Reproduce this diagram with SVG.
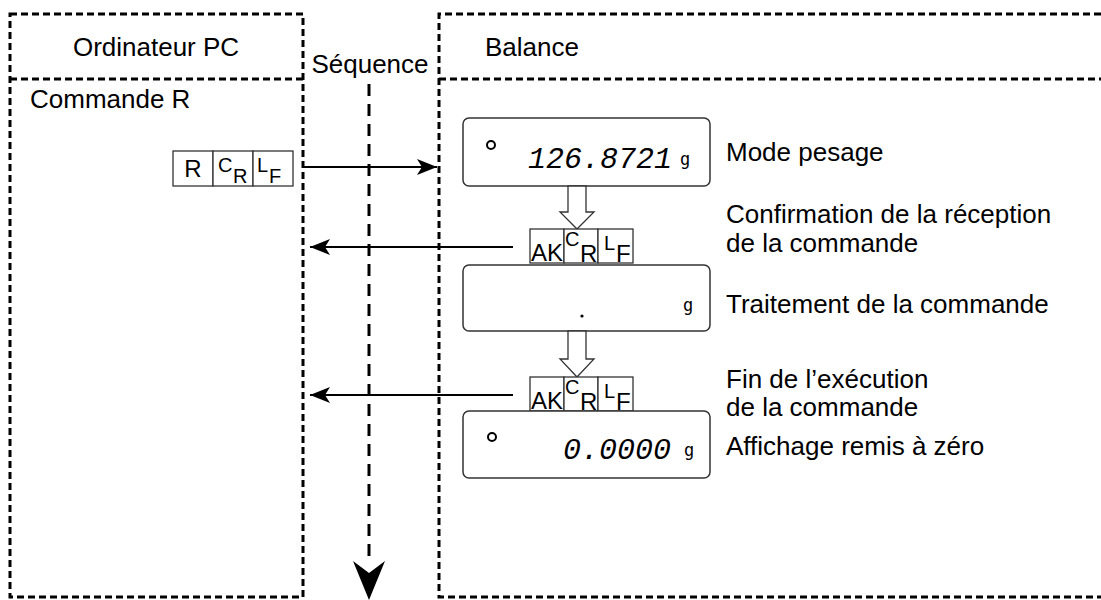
<svg xmlns="http://www.w3.org/2000/svg" width="1101" height="600" viewBox="0 0 1101 600">
<defs>
<style>
.lbl{font-family:"Liberation Sans",Arial,sans-serif;font-size:26px;fill:#000}
.dash{fill:none;stroke:#000;stroke-width:3;stroke-dasharray:7 4}
.cell{fill:#fff;stroke:#333;stroke-width:1.3}
.disp{fill:#fff;stroke:#333;stroke-width:1.5}
.hollow{fill:#fff;stroke:#333;stroke-width:1.3}
.seg{font-family:"Liberation Mono","DejaVu Sans Mono",monospace;font-style:italic;font-size:30px;fill:#000}
.unit{font-family:"DejaVu Sans Mono","Liberation Mono",monospace;font-size:17px;fill:#000}
.big{font-family:"Liberation Sans",Arial,sans-serif;font-size:24px;fill:#000}
.sub{font-family:"Liberation Sans",Arial,sans-serif;font-size:20px;fill:#000}
.conn{stroke:#000;stroke-width:2;fill:none}
</style>
<marker id="ah" markerUnits="userSpaceOnUse" markerWidth="22" markerHeight="18" refX="20" refY="8" orient="auto">
<path d="M0,0 L20,8 L0,16 L5,8 z" fill="#000"/>
</marker>
</defs>
<rect width="1101" height="600" fill="#fff"/>

<g id="pc-lane">
<rect class="dash" x="10" y="14" width="293" height="583"/>
<path class="dash" d="M10,79 H303"/>
<text class="lbl" x="156" y="56" text-anchor="middle">Ordinateur PC</text>
<text class="lbl" x="30" y="108">Commande R</text>
</g>

<g id="balance-lane">
<path class="dash" d="M1101,14 H439 V597 H1101"/>
<path class="dash" d="M439,79 H1101"/>
<text class="lbl" x="485" y="56">Balance</text>
</g>

<g id="sequence-label">
<text class="lbl" x="370" y="73" text-anchor="middle">Séquence</text>
</g>

<g id="cmd-R">
<rect class="cell" x="173" y="151" width="40" height="35"/>
<rect class="cell" x="213" y="151" width="40" height="35"/>
<rect class="cell" x="253" y="151" width="40" height="35"/>
<text class="big" x="193" y="177" text-anchor="middle">R</text>
<text class="sub" x="218" y="172">C</text>
<text class="sub" x="233" y="183">R</text>
<text class="sub" x="257" y="172">L</text>
<text class="sub" x="269" y="183">F</text>
</g>

<g id="display-1">
<rect class="disp" x="463" y="118" width="247" height="68" rx="6"/>
<circle cx="491" cy="145" r="4" fill="none" stroke="#000" stroke-width="2"/>
<text class="seg" x="528" y="168">126.8721</text>
<text class="unit" x="680" y="165">g</text>
</g>
<text class="lbl" x="726" y="161">Mode pesage</text>

<g id="hollow-arrow-1">
<polygon class="hollow" points="568,186 586,186 586,212 594,212 577,229 560,212 568,212"/>
</g>

<g id="ack-1">
<rect class="cell" x="530" y="229" width="34" height="34"/>
<rect class="cell" x="564" y="229" width="34" height="34"/>
<rect class="cell" x="598" y="229" width="35" height="34"/>
<text class="big" x="531" y="261" textLength="32" lengthAdjust="spacingAndGlyphs">AK</text>
<text class="sub" x="565" y="246">C</text>
<text class="big" x="580" y="262">R</text>
<text class="sub" x="604" y="250">L</text>
<text class="big" x="616" y="262">F</text>
</g>
<text class="lbl" x="726" y="223">Confirmation de la réception</text>
<text class="lbl" x="726" y="252">de la commande</text>

<g id="display-2">
<rect class="disp" x="463" y="265" width="247" height="66" rx="6"/>
<circle cx="582" cy="316" r="1.6" fill="#000"/>
<text class="unit" x="683" y="311">g</text>
</g>
<text class="lbl" x="726" y="313">Traitement de la commande</text>

<g id="hollow-arrow-2">
<polygon class="hollow" points="568,331 586,331 586,359 594,359 577,377 560,359 568,359"/>
</g>

<g id="ack-2">
<rect class="cell" x="530" y="377" width="34" height="34"/>
<rect class="cell" x="564" y="377" width="34" height="34"/>
<rect class="cell" x="598" y="377" width="35" height="34"/>
<text class="big" x="531" y="409" textLength="32" lengthAdjust="spacingAndGlyphs">AK</text>
<text class="sub" x="565" y="394">C</text>
<text class="big" x="580" y="410">R</text>
<text class="sub" x="604" y="398">L</text>
<text class="big" x="616" y="410">F</text>
</g>
<text class="lbl" x="726" y="388">Fin de l’exécution</text>
<text class="lbl" x="726" y="416">de la commande</text>

<g id="display-3">
<rect class="disp" x="463" y="411" width="247" height="67" rx="6"/>
<circle cx="492" cy="437" r="4" fill="none" stroke="#000" stroke-width="2"/>
<text class="seg" x="563" y="459">0.0000</text>
<text class="unit" x="684" y="456">g</text>
</g>
<text class="lbl" x="726" y="455">Affichage remis à zéro</text>

<g id="connectors">
<path class="dash" d="M369,84 V562" style="stroke-dasharray:12 8"/>
<polygon points="369,600 353,561 369,573 385,561" fill="#000"/>
<path class="conn" d="M303,167 H437" marker-end="url(#ah)"/>
<path class="conn" d="M513,247 H310" marker-end="url(#ah)"/>
<path class="conn" d="M513,395 H310" marker-end="url(#ah)"/>
</g>
</svg>
